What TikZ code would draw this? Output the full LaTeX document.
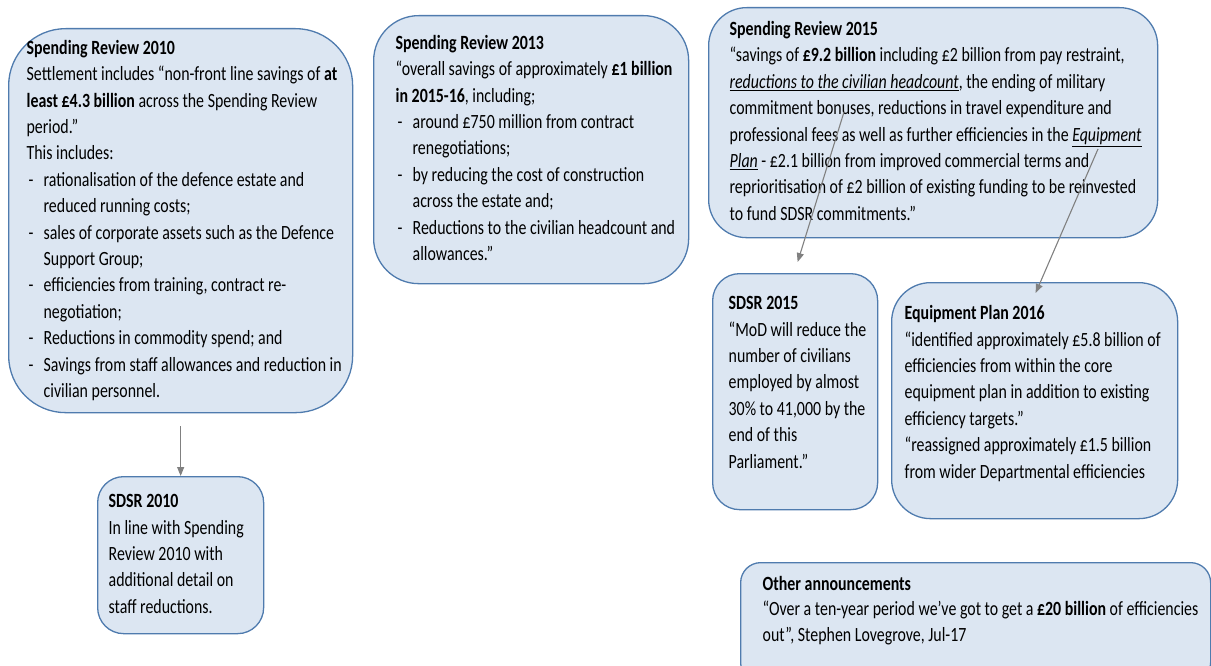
\documentclass[tikz,border=0pt]{standalone}
\usepackage{graphicx}
\usepackage{fontspec}
\setmainfont{Carlito}
\usetikzlibrary{arrows.meta, calc}
\definecolor{boxfill}{HTML}{DCE6F2}
\definecolor{boxline}{HTML}{4F7BAE}
\definecolor{linkgray}{HTML}{808080}
\newcommand{\bl}{\makebox[17pt][l]{\hspace{2pt}-}}
\newcommand{\hang}{\hspace*{17pt}}
% the source text is drawn a little taller than wide
\newcommand{\cardlines}[2]{\makebox[#1][l]{\scalebox{1}[1.27]{\begin{tabular}{@{}l@{}}#2\end{tabular}}}}

\begin{document}
\begin{tikzpicture}[x=1pt, y=-1pt,
		card/.style={draw=boxline, fill=boxfill, line width=1.3pt, rounded corners=#1, anchor=north west, inner sep=0pt, font=\fontsize{15.9}{20.8}\selectfont},
		link/.style={draw=linkgray, line width=1.1pt, -{Triangle[length=9pt, width=7pt]}}]
				\useasboundingbox (0,0) rectangle (1211,666);
				\node[card=57, minimum width=344, minimum height=384] (SR10) at (8,28) {\cardlines{308pt}{\textbf{Spending Review 2010}\\
					Settlement includes “non-front line savings of \textbf{at}\\
					\textbf{least £4.3 billion} across the Spending Review\\
					period.”\\
					This includes:\\
					\bl rationalisation of the defence estate and\\
					\hang reduced running costs;\\
					\bl sales of corporate assets such as the Defence\\
					\hang Support Group;\\
					\bl efficiencies from training, contract re-\\
					\hang negotiation;\\
					\bl Reductions in commodity spend; and\\
					\bl Savings from staff allowances and reduction in\\
					\hang civilian personnel.}};
				\node[card=45, minimum width=315, minimum height=268] (SR13) at (373,15) {\cardlines{271pt}{\textbf{Spending Review 2013}\\
					“overall savings of approximately \textbf{£1 billion}\\
					\textbf{in 2015-16}, including;\\
					\bl around £750 million from contract\\
					\hang renegotiations;\\
					\bl by reducing the cost of construction\\
					\hang across the estate and;\\
					\bl Reductions to the civilian headcount and\\
					\hang allowances.”}};
				\node[card=38, minimum width=449, minimum height=230] (SR15) at (708,7) {\cardlines{407pt}{\textbf{Spending Review 2015}\\
					“savings of \textbf{£9.2 billion} including £2 billion from pay restraint,\\
					\underline{\textit{reductions to the civilian headcount}}, the ending of military\\
					commitment bonuses, reductions in travel expenditure and\\
					professional fees as well as further efficiencies in the \underline{\textit{Equipment}}\\
					\underline{\textit{Plan}} - £2.1 billion from improved commercial terms and\\
					reprioritisation of £2 billion of existing funding to be reinvested\\
					to fund SDSR commitments.”}};
				\node[card=27, minimum width=165, minimum height=236] (SDSR15) at (712,273) {\cardlines{133pt}{\textbf{SDSR 2015}\\
					“MoD will reduce the\\
					number of civilians\\
					employed by almost\\
					30\% to 41,000 by the\\
					end of this\\
					Parliament."\\[12.6pt]}};
				\node[card=39, minimum width=286, minimum height=236] (EP16) at (891,282) {\cardlines{260pt}{\textbf{Equipment Plan 2016}\\
					“identified approximately £5.8 billion of\\
					efficiencies from within the core\\
					equipment plan in addition to existing\\
					efficiency targets.”\\
					“reassigned approximately £1.5 billion\\
					from wider Departmental efficiencies\\[11pt]}};
				\node[card=26, minimum width=166, minimum height=157] (SDSR10) at (97,476) {\cardlines{144pt}{\textbf{SDSR 2010}\\
					In line with Spending\\
					Review 2010 with\\
					additional detail on\\
					staff reductions.}};
				\node[card=20, minimum width=470, minimum height=120, font=\fontsize{15.9}{20.1}\selectfont] (Other) at (740,562) {\cardlines{426pt}{\textbf{Other announcements}\\
					“Over a ten-year period we’ve got to get a \textbf{£20 billion} of efficiencies\\
					out”, Stephen Lovegrove, Jul-17\\[19pt]}};
				% arrows out of the 2015 review
				\coordinate (headcount) at (844,112);
				\coordinate (eqplan) at (1098,149);
				\draw[link] ([yshift=-13pt] SR10.south) -- (SDSR10.north);
				\draw[link] (headcount) -- ($ (SDSR15.north) + (2.5,-11) $);
				\draw[link] (eqplan) -- ($ (EP16.north) + (1,11) $);
\end{tikzpicture}
\end{document}
